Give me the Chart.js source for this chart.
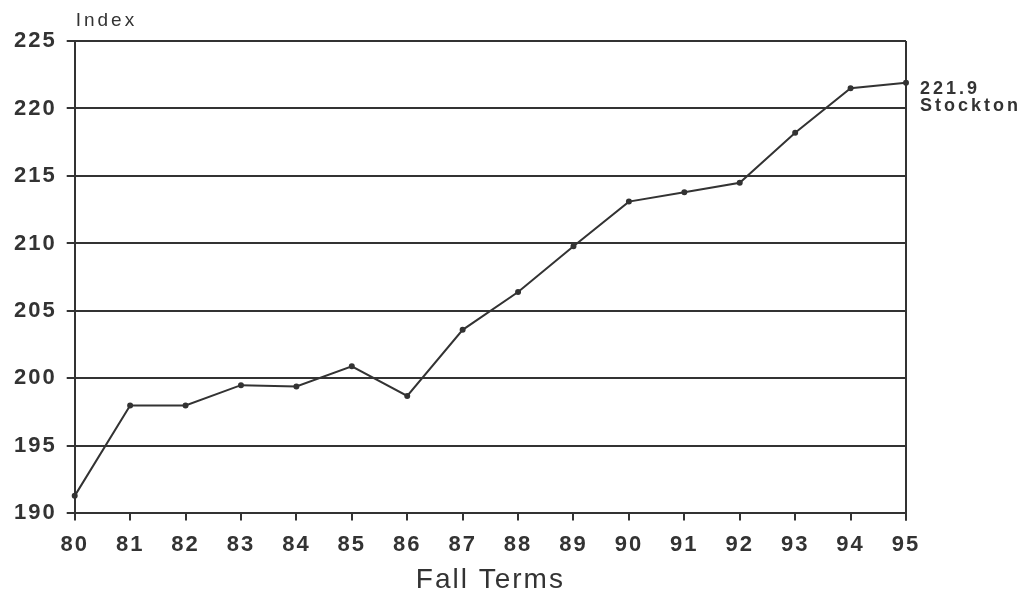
<!DOCTYPE html>
<html>
<head>
<meta charset="utf-8">
<script src="https://cdn.jsdelivr.net/npm/chart.js@4.4.1/dist/chart.umd.min.js"></script>
<style>
  html, body { margin: 0; padding: 0; background: #fff; }
  #wrap { width: 1027px; height: 594px; }
</style>
</head>
<body>
<div id="wrap"><canvas id="myChart" width="1027" height="594"></canvas></div>
<script>
const years = ['80', '81', '82', '83', '84', '85', '86', '87', '88', '89', '90', '91', '92', '93', '94', '95'];
const stocktonIndex = [191.3, 198.0, 198.0, 199.5, 199.4, 200.9, 198.7, 203.6, 206.4, 209.8, 213.1, 213.8, 214.5, 218.2, 221.5, 221.9];
const yTicks = [190, 195, 200, 205, 210, 215, 220, 225];
const endLabel = ['221.9', 'Stockton'];

const ink = '#333';
const fontFamily = '"Liberation Sans", Arial, sans-serif';

// the old typeface is set wide, so open up the letter spacing a bit
const spacing = {
    id: 'spacing',
    beforeLayout(chart) { chart.ctx.letterSpacing = '2px'; },
    beforeDraw(chart) { chart.ctx.letterSpacing = '2px'; }
};

// extra text: "Index" over the axis, the end label, and the right frame line
const extras = {
    id: 'extras',
    afterDraw(chart) {
        const c = chart.ctx;
        const area = chart.chartArea;
        const x = chart.scales.x, y = chart.scales.y;
        c.save();
        c.strokeStyle = ink;
        c.lineWidth = 2;
        c.beginPath();
        c.moveTo(area.right, area.top);
        c.lineTo(area.right, area.bottom + 7);
        c.stroke();

        c.fillStyle = ink;
        c.letterSpacing = '3px';
        c.font = '19px ' + fontFamily;
        c.textAlign = 'left';
        c.textBaseline = 'middle';
        c.fillText('Index', area.left + 1, area.top - 20);

        const last = stocktonIndex.length - 1;
        const px = x.getPixelForValue(last);
        const py = y.getPixelForValue(stocktonIndex[last]);
        c.font = 'bold 18px ' + fontFamily;
        c.fillText(endLabel[0], px + 14, py + 6);
        c.fillText(endLabel[1], px + 14, py + 23);
        c.restore();
    }
};

new Chart(document.getElementById('myChart'), {
    type: 'line',
    data: {
        labels: years,
        datasets: [{
            label: 'Stockton',
            data: stocktonIndex,
            borderColor: ink,
            borderWidth: 2,
            pointRadius: 2,
            pointBackgroundColor: ink,
            pointBorderColor: ink,
            tension: 0,
            fill: false
        }]
    },
    options: {
        responsive: false,
        animation: false,
        layout: { padding: { left: 4, right: 121, top: 41, bottom: 0 } },
        plugins: { legend: { display: false }, tooltip: { enabled: false } },
        scales: {
            x: {
                offset: false,
                grid: { drawOnChartArea: false, tickLength: 7, color: ink, lineWidth: 2 },
                border: { color: ink, width: 2 },
                ticks: { color: ink, padding: 11, font: { family: fontFamily, size: 22, weight: 'bold' }, maxRotation: 0 },
                title: { display: true, text: 'Fall Terms', color: ink, padding: { top: 2, bottom: 5 }, font: { family: fontFamily, size: 28, lineHeight: 0.65 } }
            },
            y: {
                min: 190,
                max: 225,
                afterBuildTicks(axis) { axis.ticks = yTicks.map(v => ({ value: v })); },
                grid: { color: ink, lineWidth: 2, tickLength: 8 },
                border: { color: ink, width: 2 },
                ticks: { color: ink, padding: 10, font: { family: fontFamily, size: 22, weight: 'bold' } }
            }
        }
    },
    plugins: [spacing, extras]
});
</script>
</body>
</html>
